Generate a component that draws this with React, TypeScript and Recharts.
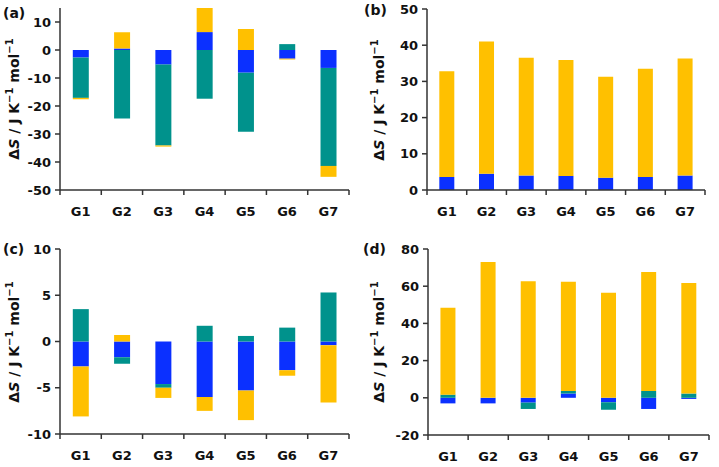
import React from "react";
import { BarChart, Bar, XAxis, YAxis } from "recharts";

const groups = ["G1", "G2", "G3", "G4", "G5", "G6", "G7"];

// panel (a)
const blueA = [-2.7, 0.5, -5.2, 6.4, -8.1, -3.1, -6.4];
const tealA = [-14.4, -24.5, -28.9, -17.4, -21.1, 2.1, -35.0];
const yellowA = [-0.5, 5.8, -0.4, 8.6, 7.5, -0.3, -3.9];
const ticksA = [-50, -40, -30, -20, -10, 0, 10];

// panel (b)
const blueB = [3.6, 4.5, 4.0, 3.9, 3.4, 3.6, 4.0];
const yellowB = [29.2, 36.5, 32.5, 32.0, 27.9, 29.9, 32.3];
const ticksB = [0, 10, 20, 30, 40, 50];

// panel (c)
const blueC = [-2.7, -1.7, -4.6, -6.0, -5.3, -3.1, -0.4];
const tealC = [3.5, -0.7, -0.4, 1.7, 0.6, 1.5, 5.3];
const yellowC = [-5.4, 0.7, -1.1, -1.5, -3.2, -0.6, -6.2];
const ticksC = [-10, -5, 0, 5, 10];

// panel (d)
const blueD = [-3.0, -3.0, -2.6, 2.3, -2.4, -6.0, -0.6];
const tealD = [1.7, 0, -3.4, 1.4, -4.0, 3.7, 2.3];
const yellowD = [46.7, 73.0, 62.6, 58.7, 56.5, 63.9, 59.4];
const ticksD = [-20, 0, 20, 40, 60, 80];

const BLUE = "#0b30ff";
const TEAL = "#00928c";
const YELLOW = "#ffc000";
const AXIS = "#333";
const FONT = "'DejaVu Sans', Verdana, sans-serif";

type PanelProps = {
  tag: string;
  left: number;
  top: number;
  width: number;
  height: number;
  margin: { top: number; right: number; bottom: number; left: number };
  yWidth: number;
  labelX: number;
  tagPos: { x: number; y: number };
  domain: [number, number];
  ticks: number[];
  blue: number[];
  teal?: number[];
  yellow: number[];
};

function Panel(p: PanelProps) {
  const data = groups.map((g, i) => ({
    name: g,
    blue: p.blue[i],
    teal: p.teal ? p.teal[i] : undefined,
    yellow: p.yellow[i],
  }));
  const plotW = p.width - p.margin.left - p.margin.right - p.yWidth;
  const half = plotW / groups.length / 2;
  const plotMid = p.margin.top + (p.height - p.margin.top - p.margin.bottom - 30) / 2;

  const XTick = (props: any) => {
    const { x, y, payload, index } = props;
    return (
      <g>
        <line x1={x - half} x2={x - half} y1={y} y2={y + 5} stroke={AXIS} strokeWidth={1.5} />
        {index === groups.length - 1 && (
          <line x1={x + half} x2={x + half} y1={y} y2={y + 5} stroke={AXIS} strokeWidth={1.5} />
        )}
        <text x={x} y={y + 26} textAnchor="middle" fontFamily={FONT} fontWeight="bold" fontSize={13} fill="#111">
          {payload.value}
        </text>
      </g>
    );
  };

  return (
    <div style={{ position: "absolute", left: p.left, top: p.top, width: p.width, height: p.height }}>
      <BarChart width={p.width} height={p.height} data={data} margin={p.margin} stackOffset="sign" barCategoryGap="31%">
        <XAxis
          dataKey="name"
          height={30}
          tickLine={false}
          tickSize={0}
          tickMargin={0}
          axisLine={{ stroke: AXIS, strokeWidth: 1.5 }}
          tick={<XTick />}
          interval={0}
        />
        <YAxis
          width={p.yWidth}
          domain={p.domain}
          ticks={p.ticks}
          allowDataOverflow
          axisLine={{ stroke: AXIS, strokeWidth: 1.5 }}
          tickLine={{ stroke: AXIS, strokeWidth: 1.5 }}
          tickSize={5}
          tickMargin={4}
          tick={{ fontFamily: FONT, fontWeight: "bold", fontSize: 13, fill: "#111" }}
        />
        <Bar dataKey="blue" stackId="s" fill={BLUE} isAnimationActive={false} />
        {p.teal && <Bar dataKey="teal" stackId="s" fill={TEAL} isAnimationActive={false} />}
        <Bar dataKey="yellow" stackId="s" fill={YELLOW} isAnimationActive={false} />
      </BarChart>
      <div
        style={{
          position: "absolute",
          left: p.tagPos.x,
          top: p.tagPos.y,
          fontFamily: FONT,
          fontWeight: "bold",
          fontSize: 14,
          lineHeight: 1,
          color: "#111",
        }}
      >
        {p.tag}
      </div>
      <div
        style={{
          position: "absolute",
          left: p.labelX,
          top: plotMid,
          transform: "translate(-50%, -50%) rotate(-90deg)",
          whiteSpace: "nowrap",
          fontFamily: FONT,
          fontWeight: "bold",
          fontSize: 14,
          lineHeight: 1,
          color: "#111",
        }}
      >
        Δ<i>S</i> / J K<sup style={{ fontSize: 10 }}>−1</sup> mol<sup style={{ fontSize: 10 }}>−1</sup>
      </div>
    </div>
  );
}

export default function App() {
  return (
    <div style={{ position: "absolute", left: 0, top: 0, width: 719, height: 467, background: "#fff" }}>
      <Panel
        tag="(a)"
        left={0}
        top={0}
        width={360}
        height={230}
        margin={{ top: 8, right: 11, bottom: 10, left: 0 }}
        yWidth={60}
        labelX={13}
        tagPos={{ x: 3, y: 6 }}
        domain={[-50, 15]}
        ticks={ticksA}
        blue={blueA}
        teal={tealA}
        yellow={yellowA}
      />
      <Panel
        tag="(b)"
        left={360}
        top={0}
        width={359}
        height={230}
        margin={{ top: 9, right: 14, bottom: 10, left: 0 }}
        yWidth={67}
        labelX={18}
        tagPos={{ x: 4, y: 3 }}
        domain={[0, 50]}
        ticks={ticksB}
        blue={blueB}
        yellow={yellowB}
      />
      <Panel
        tag="(c)"
        left={0}
        top={230}
        width={360}
        height={237}
        margin={{ top: 19, right: 11, bottom: 3, left: 0 }}
        yWidth={60}
        labelX={13}
        tagPos={{ x: 3, y: 12 }}
        domain={[-10, 10]}
        ticks={ticksC}
        blue={blueC}
        teal={tealC}
        yellow={yellowC}
      />
      <Panel
        tag="(d)"
        left={360}
        top={230}
        width={359}
        height={237}
        margin={{ top: 19, right: 10, bottom: 2, left: 0 }}
        yWidth={68}
        labelX={18}
        tagPos={{ x: 3, y: 12 }}
        domain={[-20, 80]}
        ticks={ticksD}
        blue={blueD}
        teal={tealD}
        yellow={yellowD}
      />
    </div>
  );
}
